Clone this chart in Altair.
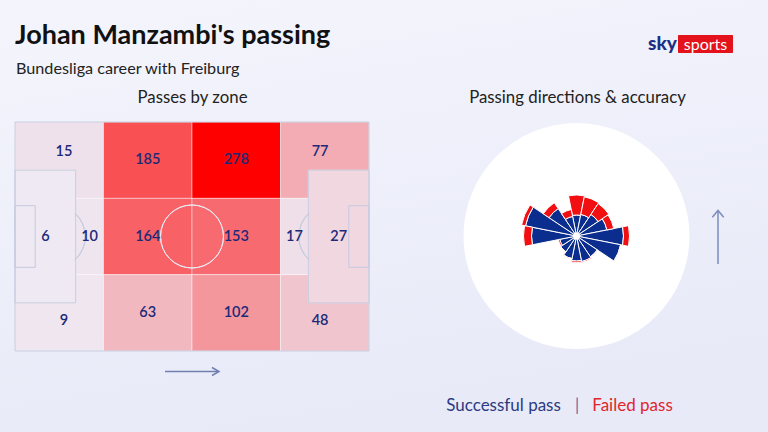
import altair as alt
import pandas as pd

# ---------------- text ----------------
title_text = "Johan Manzambi's passing"
subtitle_text = "Bundesliga career with Freiburg"
left_heading = "Passes by zone"
right_heading = "Passing directions & accuracy"
legend_success = "Successful pass"
legend_sep = "|"
legend_failed = "Failed pass"

# ---------------- passes by zone (pitch metres, attacking left -> right) ----------------
zone_passes = [15, 10, 9, 185, 164, 63, 278, 153, 102, 77, 17, 48, 6, 27]
zone_x0 = [0, 18, 0, 26.25, 26.25, 26.25, 52.5, 52.5, 52.5, 78.75, 78.75, 78.75, 0, 87]
zone_x1 = [26.25, 26.25, 26.25, 52.5, 52.5, 52.5, 78.75, 78.75, 78.75, 105, 87, 105, 18, 105]
zone_y0 = [45.33, 22.67, 0, 45.33, 22.67, 0, 45.33, 22.67, 0, 45.33, 22.67, 0, 14.3, 14.3]
zone_y1 = [68, 45.33, 22.67, 68, 45.33, 22.67, 68, 45.33, 22.67, 68, 45.33, 22.67, 53.7, 53.7]
box_zone_count = 2  # the last two zones are the penalty areas, drawn on top

# ---------------- passing directions (bearing of sector centre, 0 = forward) ----------------
direction_deg = [0, 22.5, 45, 67.5, 90, 112.5, 135, 157.5,
                 180, 202.5, 225, 247.5, 270, 292.5, 315, 337.5]
successful = [21, 22, 26, 31, 47, 45, 25, 26, 25, 23, 19, 17, 45, 52, 33, 20]
failed = [20, 18, 13, 7, 6, 0.5, 0.5, 1, 1.5, 0.5, 0.5, 1.5, 8, 4, 7, 7]

FONT = "Lato"
NAVY = "#1c2a78"
BLUE = "#0b2d8d"
RED = "#f20f12"
LINE = "#c6cade"

# ---------------- tables ----------------
zones = pd.DataFrame({"passes": zone_passes, "x0": zone_x0, "x1": zone_x1,
                      "y0": zone_y0, "y1": zone_y1})
boxes = zones.tail(box_zone_count)


def label_point(r):
    # centroid of the visible part of the zone (zone minus penalty areas on top)
    ax = (r.x1 - r.x0) * (r.y1 - r.y0)
    sx = ax * (r.x0 + r.x1) / 2
    sy = ax * (r.y0 + r.y1) / 2
    area = ax
    if r.name < len(zones) - box_zone_count:
        for _, b in boxes.iterrows():
            ox0, ox1 = max(r.x0, b.x0), min(r.x1, b.x1)
            oy0, oy1 = max(r.y0, b.y0), min(r.y1, b.y1)
            if ox1 > ox0 and oy1 > oy0:
                a = (ox1 - ox0) * (oy1 - oy0)
                sx -= a * (ox0 + ox1) / 2
                sy -= a * (oy0 + oy1) / 2
                area -= a
    return pd.Series({"lx": sx / area, "ly": sy / area})


zones[["lx", "ly"]] = zones.apply(label_point, axis=1)

radial = pd.DataFrame({"deg": direction_deg, "successful": successful, "failed": failed})
radial["total"] = radial["successful"] + radial["failed"]

pitch_lines = pd.DataFrame({
    "x0": [0, 0, 87, 0, 99],
    "x1": [105, 18, 105, 6, 105],
    "y0": [0, 14.3, 14.3, 24.84, 24.84],
    "y1": [68, 53.7, 53.7, 43.16, 43.16],
})
pitch_arcs = pd.DataFrame({
    "cx": [52.5, 11.5, 93.5],
    "cy": [34, 34, 34],
    "a0": [0, 0.743, 3.885],
    "a1": [6.2832, 2.398, 5.540],
    "col": ["#eceaf4", LINE, LINE],
})

one = pd.DataFrame({"k": [0]})

X = alt.Scale(domain=[0, 105], range=[15, 369])
Y = alt.Scale(domain=[0, 68], range=[351, 122])
HEAT = alt.Scale(domain=[0, 278], range=["#eeeef8", "#ff0000"], interpolate="rgb")
TH = alt.Scale(domain=[0, 360], range=[0, 6.283185])
RAD = alt.Scale(type="linear", domain=[0, 60], range=[0, 60])
CX, CY = 576.5, 236

# ---------------- layers ----------------
bg = alt.Chart(one).mark_rect(
    fill=alt.Gradient(gradient="linear", x1=0, x2=0.3, y1=0, y2=1,
                      stops=[alt.GradientStop(color="#f4f5fc", offset=0),
                             alt.GradientStop(color="#e8eaf8", offset=1)])
).encode(x=alt.value(0), x2=alt.value(768), y=alt.value(0), y2=alt.value(432))


def txt(text, x, y, size, color="#1a1a1a", weight="normal", align="left", font=FONT):
    return alt.Chart(one).mark_text(
        text=text, font=font, fontSize=size, fontWeight=weight, color=color,
        align=align, baseline="alphabetic"
    ).encode(x=alt.value(x), y=alt.value(y))


title = txt(title_text, 15, 44, 27, "#111111", "bold")
subtitle = txt(subtitle_text, 16, 74, 16.2, "#222222")
h_left = txt(left_heading, 192.5, 103, 16.8, "#222222", align="center")
h_right = txt(right_heading, 577.5, 103, 16.8, "#222222", align="center")
leg1 = txt(legend_success, 503.5, 411, 17, "#2b3b80", align="center")
leg2 = txt(legend_sep, 577, 411, 16.5, "#5b6aa0", align="center")
leg3 = txt(legend_failed, 632.5, 411, 17, "#e0262d", align="center")

logo_box = alt.Chart(one).mark_rect(fill="#e3121b", cornerRadius=1).encode(
    x=alt.value(678), x2=alt.value(733), y=alt.value(35), y2=alt.value(53))
logo_sky = txt("sky", 648, 50, 19, "#1b2f86", 900)
logo_sports = txt("sports", 705.5, 49.5, 16, "#ffffff", align="center")

cells = alt.Chart(zones).mark_rect(stroke="#ffffff", strokeOpacity=0.45, strokeWidth=1).encode(
    x=alt.X("x0:Q", scale=X, axis=None), x2="x1:Q",
    y=alt.Y("y0:Q", scale=Y, axis=None), y2="y1:Q",
    color=alt.Color("passes:Q", scale=HEAT, legend=None),
)

lines = alt.Chart(pitch_lines).mark_rect(fillOpacity=0, stroke=LINE, strokeWidth=1).encode(
    x=alt.X("x0:Q", scale=X, axis=None), x2="x1:Q",
    y=alt.Y("y0:Q", scale=Y, axis=None), y2="y1:Q",
)

arcs = alt.Chart(pitch_arcs).mark_arc(fillOpacity=0, strokeWidth=1).encode(
    x=alt.X("cx:Q", scale=X, axis=None),
    y=alt.Y("cy:Q", scale=Y, axis=None),
    theta=alt.Theta("a0:Q", scale=None, stack=None), theta2="a1:Q",
    radius=alt.value(31.5), radius2=alt.value(31.5),
    stroke=alt.Color("col:N", scale=None),
)

labels = alt.Chart(zones).mark_text(font=FONT, fontSize=14.5, fontWeight=600, color=NAVY,
                                    baseline="middle").encode(
    x=alt.X("lx:Q", scale=X, axis=None),
    y=alt.Y("ly:Q", scale=Y, axis=None),
    text="passes:Q",
)

pitch_arrow = alt.Chart(one).mark_rule(color="#6f7fb0", strokeWidth=1.5).encode(
    x=alt.value(165), x2=alt.value(218), y=alt.value(371.5))
pitch_head = alt.Chart(one).mark_point(
    shape="M -1 -0.57 L 0 0 L -1 0.57", filled=False, color="#6f7fb0", strokeWidth=1.5,
    size=196, opacity=1
).encode(x=alt.value(219), y=alt.value(371.5))

# radial chart
disc = alt.Chart(one).mark_arc(fill="#ffffff").encode(
    x=alt.value(CX), y=alt.value(CY), radius=alt.value(113),
    theta=alt.value(0), theta2=alt.value(6.2832))

radial_base = alt.Chart(radial).transform_calculate(
    a0="datum.deg - 11.25", a1="datum.deg + 11.25")

ok_arcs = radial_base.mark_arc(color=BLUE, stroke="#ffffff", strokeWidth=1).encode(
    x=alt.value(CX), y=alt.value(CY),
    theta=alt.Theta("a0:Q", scale=TH, stack=None), theta2="a1:Q",
    radius=alt.Radius("successful:Q", scale=RAD),
)
fail_arcs = radial_base.mark_arc(color=RED, stroke="#ffffff", strokeWidth=1).encode(
    x=alt.value(CX), y=alt.value(CY),
    theta=alt.Theta("a0:Q", scale=TH, stack=None), theta2="a1:Q",
    radius=alt.Radius("total:Q", scale=RAD), radius2="successful:Q",
)
hub = alt.Chart(one).mark_arc(fill="#ffffff").encode(
    x=alt.value(CX), y=alt.value(CY), radius=alt.value(3.5),
    theta=alt.value(0), theta2=alt.value(6.2832))

up_arrow = alt.Chart(one).mark_rule(color="#7b8bbd", strokeWidth=1.5).encode(
    x=alt.value(718), y=alt.value(211), y2=alt.value(264))
up_head = alt.Chart(one).mark_point(
    shape="M -0.85 1 L 0 0 L 0.85 1", filled=False, color="#7b8bbd", strokeWidth=1.5,
    size=180, opacity=1
).encode(x=alt.value(718), y=alt.value(210.5))

chart = alt.layer(
    bg, title, subtitle, h_left, h_right, logo_box, logo_sky, logo_sports,
    cells, lines, arcs, labels, pitch_arrow, pitch_head,
    disc, ok_arcs, fail_arcs, hub, up_arrow, up_head,
    leg1, leg2, leg3,
).properties(
    width=768, height=432, padding=0,
    autosize=alt.AutoSizeParams(type="none"),
    background="#eef0fa",
).configure_view(strokeWidth=0)

chart.save("out.html", embed_options={"renderer": "svg", "actions": False})
